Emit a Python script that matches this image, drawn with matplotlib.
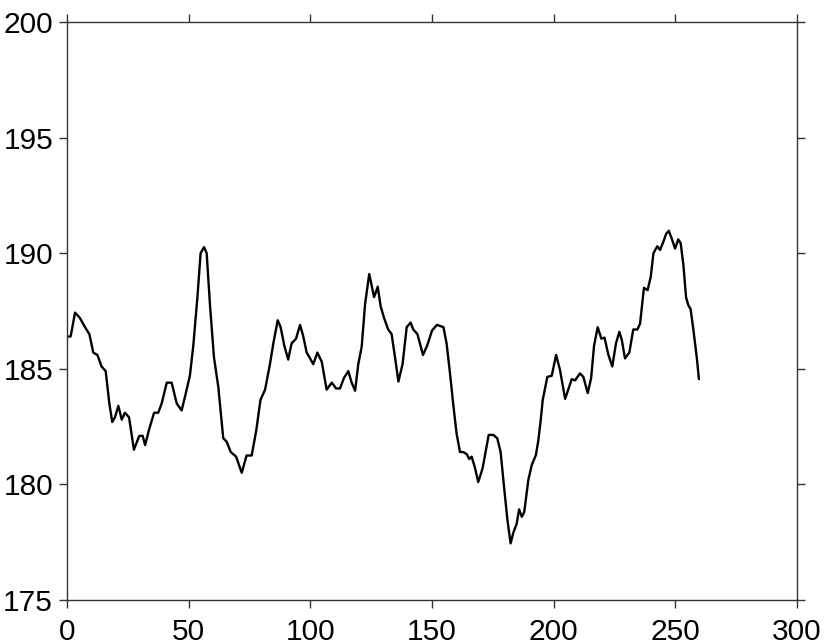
import matplotlib
matplotlib.use("Agg")
import matplotlib.pyplot as plt

plt.rcParams['font.family'] = ['Liberation Sans', 'DejaVu Sans']

x_vals = [0.1, 1.5, 3.3, 5.3, 7.4, 9.2, 10.8, 12.5, 14.2, 15.9, 17.4, 18.6, 19.7, 21.1, 22.5,
          23.8, 25.5, 27.5, 29.7, 31.1, 32.1, 33.8, 35.8, 37.5, 38.9, 41.0, 43.0, 45.1, 47.1,
          48.5, 50.5, 51.9, 53.6, 54.9, 56.3, 57.4, 58.8, 60.4, 62.2, 64.2, 65.6, 67.3, 69.5,
          71.8, 73.8, 75.9, 77.8, 79.5, 81.4, 83.4, 84.8, 86.6, 87.8, 89.3, 90.9, 92.3, 94.1,
          95.8, 97.1, 98.5, 99.9, 101.2, 102.9, 104.7, 106.7, 108.8, 110.6, 112.2, 113.8,
          115.6, 117.0, 118.4, 119.7, 121.1, 122.5, 124.2, 126.2, 127.7, 128.9, 130.3, 132.0,
          133.4, 134.8, 136.2, 137.9, 139.6, 141.2, 142.3, 144.0, 146.3, 148.0, 150.0, 152.0,
          154.7, 156.0, 157.4, 158.8, 160.1, 161.5, 162.9, 164.3, 165.3, 166.3, 167.7, 169.0,
          170.8, 172.2, 173.3, 175.2, 176.8, 178.2, 179.6, 181.0, 182.3, 183.4, 184.8, 185.8,
          186.9, 187.9, 189.6, 191.0, 192.7, 193.7, 194.7, 195.5, 197.4, 199.2, 201.0, 202.6,
          204.7, 206.0, 207.4, 208.8, 210.8, 212.2, 214.0, 215.4, 216.6, 218.1, 219.6, 220.9,
          222.5, 224.1, 225.6, 227.0, 228.0, 229.3, 231.1, 232.7, 234.4, 235.5, 237.1, 238.6,
          239.9, 241.0, 242.6, 243.7, 245.1, 246.2, 247.3, 248.5, 249.9, 251.2, 252.2, 253.3,
          254.4, 255.3, 256.3, 257.4, 258.8, 259.7]

y_vals = [186.39, 186.4, 187.43, 187.2, 186.8, 186.5, 185.7, 185.6, 185.1, 184.9, 183.5, 182.7,
          182.9, 183.4, 182.8, 183.1, 182.9, 181.5, 182.1, 182.1, 181.7, 182.4, 183.1, 183.1,
          183.5, 184.4, 184.4, 183.5, 183.2, 183.8, 184.7, 186.0, 188.1, 190.0, 190.26, 190.0,
          187.7, 185.5, 184.2, 182.0, 181.85, 181.4, 181.2, 180.5, 181.25, 181.25, 182.35,
          183.65, 184.1, 185.2, 186.1, 187.1, 186.8, 186.0, 185.4, 186.1, 186.3, 186.9, 186.4,
          185.7, 185.45, 185.2, 185.7, 185.3, 184.1, 184.4, 184.15, 184.15, 184.6, 184.9, 184.4,
          184.05, 185.2, 185.95, 187.8, 189.1, 188.1, 188.55, 187.7, 187.2, 186.7, 186.5, 185.5,
          184.45, 185.2, 186.8, 187.0, 186.7, 186.5, 185.6, 186.0, 186.65, 186.9, 186.8, 186.1,
          184.8, 183.4, 182.2, 181.4, 181.4, 181.3, 181.1, 181.2, 180.7, 180.1, 180.7, 181.5,
          182.14, 182.14, 182.0, 181.4, 179.9, 178.46, 177.45, 177.9, 178.3, 178.92, 178.6,
          178.8, 180.2, 180.84, 181.27, 181.9, 182.8, 183.65, 184.65, 184.7, 185.6, 184.95,
          183.7, 184.1, 184.55, 184.5, 184.8, 184.65, 183.95, 184.6, 186.0, 186.8, 186.3,
          186.35, 185.6, 185.1, 186.1, 186.6, 186.25, 185.45, 185.7, 186.7, 186.7, 186.95,
          188.5, 188.4, 188.98, 190.0, 190.3, 190.14, 190.5, 190.83, 190.97, 190.64, 190.2,
          190.6, 190.43, 189.5, 188.1, 187.76, 187.57, 186.7, 185.5, 184.55]

x_ticks = [0, 50, 100, 150, 200, 250, 300]
y_ticks = [175, 180, 185, 190, 195, 200]

fig = plt.figure(figsize=(8.3, 6.43), dpi=100)
ax = fig.add_axes([67/830, 43/643, 730/830, 578/643])
ax.plot(x_vals, y_vals, color='black', linewidth=1.7, solid_joinstyle='round',
        solid_capstyle='round')
ax.set_xlim(0, 300)
ax.set_ylim(175, 200)
ax.set_xticks(x_ticks)
ax.set_yticks(y_ticks)
for s in ax.spines.values():
    s.set_color('#333333')
    s.set_linewidth(1.0)
ax.tick_params(axis='both', which='both', direction='out', length=6, width=1.0,
               color='#333333', labelsize=21.5, top=True, right=True)
ax.tick_params(axis='y', pad=4)
ax.tick_params(axis='x', pad=7)
fig.savefig('out.png', dpi=100)
